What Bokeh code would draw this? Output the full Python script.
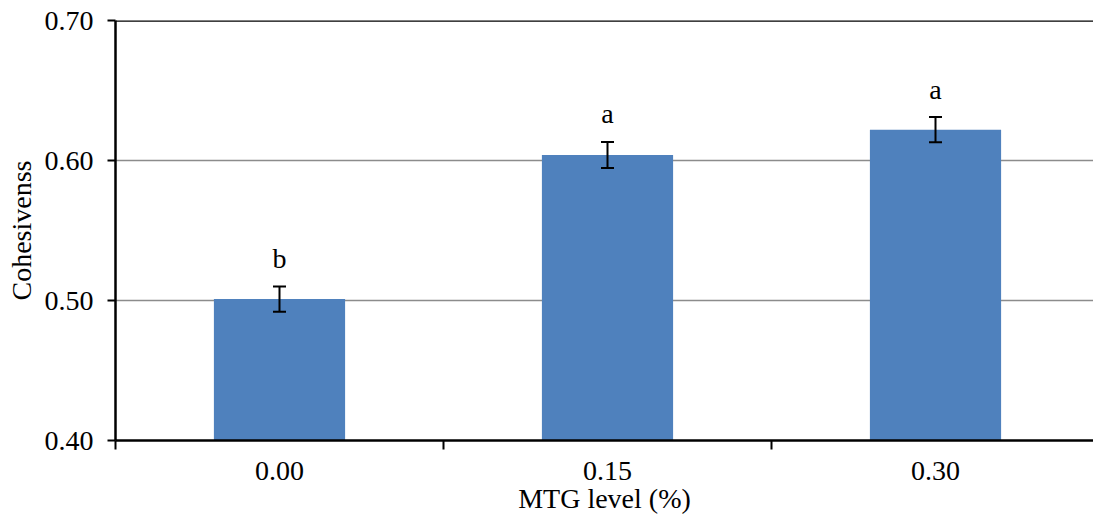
from bokeh.plotting import figure
from bokeh.models import Range1d, FixedTicker, Span, Whisker, TeeHead, ColumnDataSource, NumeralTickFormatter
from bokeh.core.properties import value
from bokeh.embed import file_html
from bokeh.resources import INLINE

categories = ["0.00", "0.15", "0.30"]
cohesiveness = [0.501, 0.604, 0.622]
errors = [0.009, 0.0093, 0.009]
letters = ["b", "a", "a"]

FONT = "Liberation Serif"
FS = "28px"
xs = list(range(len(categories)))
src = ColumnDataSource(dict(
    x=xs, top=cohesiveness,
    upper=[v + e for v, e in zip(cohesiveness, errors)],
    lower=[v - e for v, e in zip(cohesiveness, errors)],
    lab_y=[v + e + 0.020 for v, e in zip(cohesiveness, errors)],
    lab=letters,
))

p = figure(width=1093, height=520, output_backend="svg", toolbar_location=None,
           x_range=Range1d(-0.5, 2.4817), y_range=Range1d(0.40, 0.70),
           min_border_top=20, min_border_right=0, min_border_bottom=80, min_border_left=115)
p.outline_line_color = None
p.xgrid.grid_line_color = None
p.ygrid.ticker = FixedTicker(ticks=[0.5, 0.6])
p.ygrid.grid_line_color = "#8c8c8c"
p.ygrid.grid_line_width = 1.5

p.vbar(x="x", top="top", bottom=0.40, width=0.4, source=src,
       fill_color="#4f81bd", line_color=None)
w = Whisker(base="x", upper="upper", lower="lower", source=src, level="overlay",
            line_color="black", line_width=2,
            upper_head=TeeHead(size=13, line_color="black", line_width=2),
            lower_head=TeeHead(size=13, line_color="black", line_width=2))
p.add_layout(w)

p.text(x="x", y="lab_y", text="lab", source=src, text_font=value(FONT),
       text_font_size=FS, text_align="center", text_baseline="alphabetic", text_color="black")

p.add_layout(Span(location=0.70, dimension="width", line_color="black", line_width=2.5))

# x axis
xa = p.xaxis[0]
xa.ticker = FixedTicker(ticks=xs, minor_ticks=[-0.5, 0.5, 1.5])
xa.major_label_overrides = {i: c for i, c in enumerate(categories)}
xa.major_tick_out = 0
xa.major_tick_in = 0
xa.minor_tick_out = 9
xa.minor_tick_in = 0
xa.minor_tick_line_color = "black"
xa.minor_tick_line_width = 2
xa.axis_line_width = 2.5
xa.axis_line_color = "black"
xa.major_label_text_font = FONT
xa.major_label_text_font_size = FS
xa.major_label_text_color = "black"
xa.major_label_standoff = 12
xa.axis_label = "MTG level (%)"
xa.axis_label_text_font = FONT
xa.axis_label_text_font_size = FS
xa.axis_label_text_font_style = "normal"
xa.axis_label_text_color = "black"
xa.axis_label_standoff = 0

# y axis
ya = p.yaxis[0]
ya.ticker = FixedTicker(ticks=[0.4, 0.5, 0.6, 0.7])
ya.formatter = NumeralTickFormatter(format="0.00")
ya.major_tick_out = 8
ya.major_tick_in = 0
ya.major_tick_line_width = 2
ya.minor_tick_out = 0
ya.minor_tick_in = 0
ya.axis_line_width = 2.5
ya.axis_line_color = "black"
ya.major_label_text_font = FONT
ya.major_label_text_font_size = FS
ya.major_label_text_color = "black"
ya.major_label_standoff = 14
ya.axis_label = "Cohesivenss"
ya.axis_label_text_font = FONT
ya.axis_label_text_font_size = FS
ya.axis_label_text_font_style = "normal"
ya.axis_label_text_color = "black"
ya.axis_label_standoff = 5

open("out.html", "w").write(file_html(p, INLINE))
